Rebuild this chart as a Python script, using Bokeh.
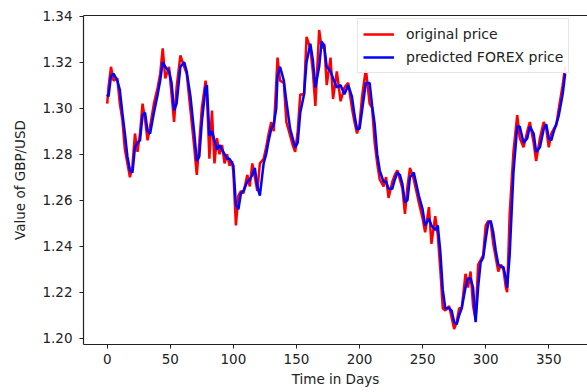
from bokeh.plotting import figure
from bokeh.models import Range1d, FixedTicker, PrintfTickFormatter, Legend, LegendItem, LinearAxis
from bokeh.embed import file_html
from bokeh.resources import INLINE

days = [0, 1, 3, 5, 8, 10, 12, 14, 16, 18, 20, 22, 24, 26, 28, 30, 32, 34, 37, 40,
        42, 44, 46, 49, 51, 53, 55, 58, 61, 63, 66, 69, 71, 73, 75, 78, 79, 81, 83, 85,
        87, 89, 91, 93, 95, 97, 99, 100, 102, 104, 106, 108, 111, 113, 115, 117, 119, 121, 124, 126,
        128, 130, 132, 134, 135, 137, 140, 142, 145, 147, 149, 151, 153, 156, 158, 161, 163, 165, 168, 170,
        172, 174, 177, 179, 182, 185, 188, 191, 194, 196, 198, 200, 202, 205, 208, 210, 212, 214, 216, 219,
        221, 223, 226, 228, 230, 232, 234, 236, 238, 240, 243, 245, 247, 250, 252, 255, 257, 260, 262, 264,
        266, 268, 271, 273, 275, 277, 279, 281, 284, 286, 288, 290, 292, 294, 296, 298, 300, 302, 304, 306,
        308, 310, 312, 314, 316, 317, 319, 322, 325, 327, 330, 333, 335, 338, 340, 343, 346, 348, 350, 352,
        354, 356, 358, 361, 363]

original_price = [1.302, 1.309, 1.318, 1.312, 1.313, 1.302, 1.295, 1.282, 1.276, 1.270, 1.275, 1.289, 1.281, 1.289, 1.302, 1.295, 1.286, 1.292, 1.302, 1.309,
                  1.315, 1.326, 1.313, 1.318, 1.306, 1.294, 1.309, 1.323, 1.318, 1.315, 1.299, 1.283, 1.271, 1.285, 1.300, 1.312, 1.306, 1.278, 1.299, 1.276,
                  1.287, 1.280, 1.284, 1.276, 1.280, 1.275, 1.277, 1.272, 1.249, 1.262, 1.264, 1.263, 1.271, 1.266, 1.276, 1.270, 1.264, 1.276, 1.278, 1.283,
                  1.289, 1.294, 1.290, 1.311, 1.322, 1.312, 1.311, 1.294, 1.288, 1.284, 1.281, 1.290, 1.306, 1.306, 1.331, 1.326, 1.316, 1.301, 1.334, 1.326,
                  1.328, 1.310, 1.322, 1.304, 1.316, 1.303, 1.309, 1.311, 1.300, 1.294, 1.289, 1.293, 1.305, 1.317, 1.302, 1.300, 1.285, 1.276, 1.269, 1.266,
                  1.270, 1.261, 1.268, 1.271, 1.273, 1.269, 1.265, 1.254, 1.266, 1.274, 1.269, 1.264, 1.259, 1.252, 1.246, 1.257, 1.241, 1.253, 1.245, 1.230,
                  1.213, 1.212, 1.214, 1.209, 1.204, 1.207, 1.213, 1.213, 1.228, 1.222, 1.229, 1.214, 1.208, 1.232, 1.234, 1.236, 1.249, 1.251, 1.250, 1.241,
                  1.235, 1.229, 1.232, 1.230, 1.222, 1.220, 1.254, 1.281, 1.297, 1.287, 1.283, 1.290, 1.294, 1.285, 1.277, 1.287, 1.294, 1.291, 1.283, 1.289,
                  1.291, 1.293, 1.300, 1.310, 1.318]

predicted_price = [1.306, 1.305, 1.314, 1.315, 1.312, 1.308, 1.298, 1.289, 1.279, 1.273, 1.272, 1.283, 1.285, 1.286, 1.297, 1.298, 1.290, 1.289, 1.298, 1.306,
                   1.312, 1.320, 1.318, 1.316, 1.311, 1.299, 1.302, 1.318, 1.320, 1.316, 1.305, 1.289, 1.277, 1.279, 1.294, 1.309, 1.310, 1.288, 1.290, 1.286,
                   1.282, 1.284, 1.282, 1.280, 1.278, 1.278, 1.276, 1.275, 1.258, 1.256, 1.263, 1.264, 1.268, 1.269, 1.271, 1.274, 1.266, 1.262, 1.276, 1.280,
                   1.286, 1.291, 1.293, 1.300, 1.314, 1.318, 1.312, 1.303, 1.291, 1.287, 1.283, 1.285, 1.298, 1.306, 1.320, 1.328, 1.321, 1.309, 1.318, 1.329,
                   1.327, 1.318, 1.316, 1.313, 1.309, 1.310, 1.306, 1.310, 1.305, 1.297, 1.291, 1.291, 1.299, 1.311, 1.311, 1.301, 1.293, 1.280, 1.273, 1.268,
                   1.268, 1.265, 1.265, 1.269, 1.272, 1.271, 1.267, 1.259, 1.260, 1.270, 1.272, 1.267, 1.262, 1.256, 1.249, 1.252, 1.249, 1.247, 1.249, 1.238,
                   1.221, 1.213, 1.213, 1.212, 1.207, 1.206, 1.210, 1.213, 1.222, 1.226, 1.226, 1.222, 1.207, 1.222, 1.233, 1.235, 1.243, 1.250, 1.251, 1.246,
                   1.238, 1.232, 1.231, 1.231, 1.226, 1.222, 1.236, 1.272, 1.292, 1.292, 1.285, 1.287, 1.292, 1.289, 1.281, 1.283, 1.291, 1.293, 1.287, 1.286,
                   1.290, 1.293, 1.297, 1.306, 1.315]

x_ticks = [0, 50, 100, 150, 200, 250, 300, 350]
y_ticks = [1.20, 1.22, 1.24, 1.26, 1.28, 1.30, 1.32, 1.34]

FONT = "DejaVu Sans"

p = figure(width=587, height=392, output_backend="svg", toolbar_location=None,
           x_range=Range1d(-18.8, 380.7), y_range=Range1d(1.19725, 1.3403),
           min_border_left=83, min_border_top=15, min_border_right=0, min_border_bottom=48)
p.outline_line_color = None
p.xgrid.visible = False
p.ygrid.visible = False
p.background_fill_color = "white"
p.border_fill_color = "white"

r1 = p.line(days, original_price, line_color="#ff0000", line_width=2.5)
r2 = p.line(days, predicted_price, line_color="#0000ff", line_width=2.5)

for ax in (p.xaxis[0], p.yaxis[0]):
    ax.axis_line_color = "#222222"
    ax.axis_line_width = 1.2
    ax.major_tick_line_color = "#222222"
    ax.major_tick_out = 4
    ax.major_tick_in = 0
    ax.minor_tick_line_color = None
    ax.major_label_text_font = FONT
    ax.major_label_text_font_size = "13.5px"
    ax.major_label_text_color = "#222222"
    ax.axis_label_text_font = FONT
    ax.axis_label_text_font_size = "13.5px"
    ax.axis_label_text_font_style = "normal"
    ax.axis_label_text_color = "#222222"

p.xaxis[0].ticker = FixedTicker(ticks=x_ticks)
p.yaxis[0].ticker = FixedTicker(ticks=y_ticks)
p.yaxis[0].formatter = PrintfTickFormatter(format="%.2f")
p.xaxis[0].axis_label = "Time in Days"
p.yaxis[0].axis_label = "Value of GBP/USD"
p.xaxis[0].major_label_standoff = 5
p.yaxis[0].major_label_standoff = 7
p.xaxis[0].axis_label_standoff = 4
p.yaxis[0].axis_label_standoff = 11

top = LinearAxis(major_tick_line_color=None, minor_tick_line_color=None,
                 major_label_text_font_size="0px", axis_line_color="#222222",
                 axis_line_width=1.2)
top.ticker = FixedTicker(ticks=[])
p.add_layout(top, "above")

legend = Legend(items=[LegendItem(label="original price", renderers=[r1]),
                       LegendItem(label="predicted FOREX price", renderers=[r2])],
                location=(274, 271))
legend.margin = 0
legend.padding = 5
legend.spacing = 3
legend.glyph_width = 31
legend.glyph_height = 20
legend.label_height = 20
legend.label_standoff = 12
legend.label_text_font = FONT
legend.label_text_font_size = "14px"
legend.label_text_color = "#222222"
legend.border_line_color = "#cccccc"
legend.border_line_width = 1
legend.background_fill_alpha = 0.93
p.add_layout(legend, "center")

open("out.html", "w").write(file_html(p, INLINE))
